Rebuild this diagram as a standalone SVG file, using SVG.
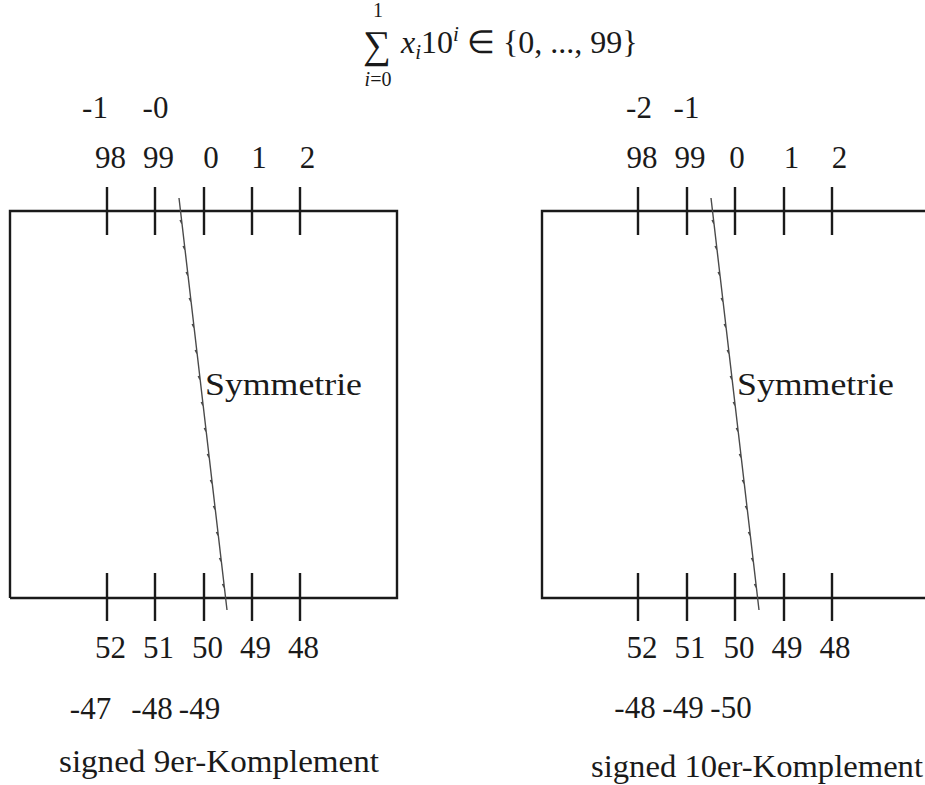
<svg xmlns="http://www.w3.org/2000/svg" width="925" height="785" viewBox="0 0 925 785">
<style>
.box{fill:none;stroke:#1a1a1a;stroke-width:2.4}
.tick{stroke:#1a1a1a;stroke-width:2.4}
.sym{fill:none;stroke:#4a4a4a;stroke-width:1.4}
text{font-family:"Liberation Serif","Times New Roman",serif;fill:#1a1a1a;font-size:31px}
.c{text-anchor:middle}
.it{font-style:italic}
.w{font-size:32px}
</style>
<defs>
<path id="zig" d="M179 198 L182.03 224 l-2 -4 l2 4 L185.06 250 l-2 -4 l2 4 L188.09 276 l-2 -4 l2 4 L191.12 302 l-2 -4 l2 4 L194.15 328 l-2 -4 l2 4 L197.17 354 l-2 -4 l2 4 L200.2 380 l-2 -4 l2 4 L203.23 406 l-2 -4 l2 4 L206.26 432 l-2 -4 l2 4 L209.29 458 l-2 -4 l2 4 L212.32 484 l-2 -4 l2 4 L215.35 510 l-2 -4 l2 4 L218.38 536 l-2 -4 l2 4 L221.41 562 l-2 -4 l2 4 L224.44 588 l-2 -4 l2 4 L227 610"/>
</defs>

<g id="formula">
<text x="377" y="58" class="c" style="font-size:39px">∑</text>
<text x="378" y="17" class="c" style="font-size:20px">1</text>
<text x="378" y="86" class="c" style="font-size:20px"><tspan class="it">i</tspan>=0</text>
<text x="401" y="53" style="font-size:32px"><tspan class="it">x</tspan><tspan class="it" style="font-size:21px" dy="6">i</tspan><tspan dy="-6">10</tspan><tspan class="it" style="font-size:21px" dy="-12">i</tspan><tspan dy="12"> ∈ {0, ..., 99}</tspan></text>
</g>

<g id="left-diagram">
<g id="left-box">
<path class="box" d="M10 598 V211 H397 V598 H10"/>
</g>
<g id="left-ticks">
<path class="tick" d="M107 187 V235 M155 187 V235 M204 187 V235 M252 187 V235 M300 187 V235 M107 573 V621 M155 573 V621 M204 573 V621 M252 573 V621 M300 573 V621"/>
</g>
<g id="left-symmetry">
<use href="#zig" class="sym"/>
<text x="205" y="395" class="w" textLength="157" lengthAdjust="spacingAndGlyphs">Symmetrie</text>
</g>
<g id="left-labels">
<text x="95" y="118" class="c">-1</text>
<text x="155.5" y="118" class="c">-0</text>
<text x="110.5" y="168" class="c">98</text>
<text x="158.5" y="168" class="c">99</text>
<text x="211" y="168" class="c">0</text>
<text x="259" y="168" class="c">1</text>
<text x="307.5" y="168" class="c">2</text>
<text x="110.5" y="658" class="c">52</text>
<text x="158.5" y="658" class="c">51</text>
<text x="207.5" y="658" class="c">50</text>
<text x="255.5" y="658" class="c">49</text>
<text x="303.5" y="658" class="c">48</text>
<text x="90.5" y="719" class="c">-47</text>
<text x="152" y="719" class="c">-48</text>
<text x="199.5" y="719" class="c">-49</text>
<text x="59" y="772" class="w" textLength="320" lengthAdjust="spacingAndGlyphs">signed 9er-Komplement</text>
</g>
</g>

<g id="right-diagram">
<g id="right-box">
<path class="box" d="M925 211 H542 V598 H925"/>
</g>
<g id="right-ticks">
<path class="tick" d="M638 187 V235 M687 187 V235 M735 187 V235 M784 187 V235 M832 187 V235 M638 573 V621 M687 573 V621 M735 573 V621 M784 573 V621 M832 573 V621"/>
</g>
<g id="right-symmetry">
<use href="#zig" class="sym" transform="translate(532 0)"/>
<text x="737" y="395" class="w" textLength="157" lengthAdjust="spacingAndGlyphs">Symmetrie</text>
</g>
<g id="right-labels">
<text x="639" y="118" class="c">-2</text>
<text x="686.5" y="118" class="c">-1</text>
<text x="642" y="168" class="c">98</text>
<text x="690" y="168" class="c">99</text>
<text x="737" y="168" class="c">0</text>
<text x="791.5" y="168" class="c">1</text>
<text x="839.5" y="168" class="c">2</text>
<text x="642" y="658" class="c">52</text>
<text x="690" y="658" class="c">51</text>
<text x="739" y="658" class="c">50</text>
<text x="787" y="658" class="c">49</text>
<text x="835" y="658" class="c">48</text>
<text x="635" y="718" class="c">-48</text>
<text x="683" y="718" class="c">-49</text>
<text x="731" y="718" class="c">-50</text>
<text x="591" y="777" class="w" textLength="332" lengthAdjust="spacingAndGlyphs">signed 10er-Komplement</text>
</g>
</g>
</svg>
